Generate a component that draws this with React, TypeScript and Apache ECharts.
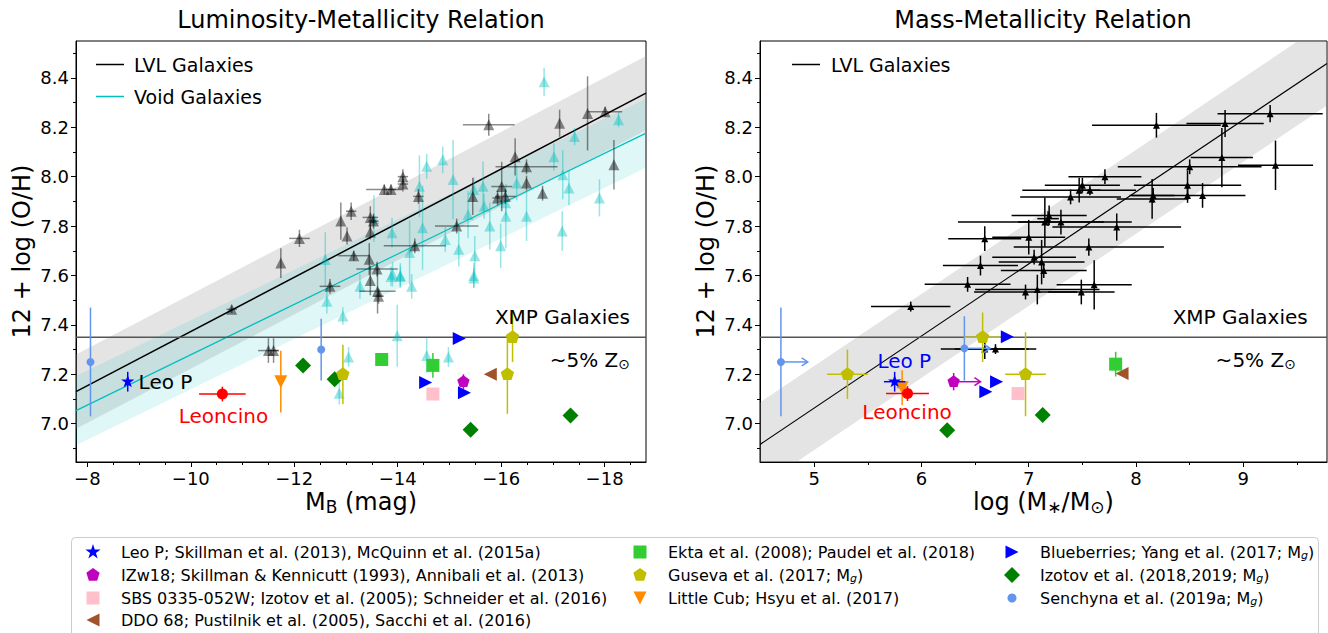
import React, { useEffect, useRef } from "react";
import * as echarts from "echarts";

const FONT = "DejaVu Sans";

// ---------------- axes ----------------
const lumXRange = [-18.8, -7.78];
const massXRange = [4.495, 9.78];
const ohRange = [6.845, 8.549];
const lumXMajor = [-8, -10, -12, -14, -16, -18];
const lumXMinor = [-8.5, -9, -9.5, -10.5, -11, -11.5, -12.5, -13, -13.5, -14.5, -15, -15.5, -16.5, -17, -17.5, -18.5];
const massXMajor = [5, 6, 7, 8, 9];
const massXMinor = [5.5, 6.5, 7.5, 8.5, 9.5];
const ohMajor = [7.0, 7.2, 7.4, 7.6, 7.8, 8.0, 8.2, 8.4];
const ohMinor = [6.9, 7.1, 7.3, 7.5, 7.7, 7.9, 8.1, 8.3, 8.5];
const xmpLevel = 7.35;

// ---------------- fits (endpoints) and scatter half-widths ----------------
const lvlLumFit = [[-7.78, 7.13], [-18.8, 8.338]];
const voidLumFit = [[-7.78, 7.053], [-18.8, 8.176]];
const lvlMassFit = [[4.495, 6.916], [9.78, 8.458]];
const lvlLumScatter = 0.15;
const voidLumScatter = 0.14;
const lvlMassScatter = 0.17;

// ---------------- Luminosity-metallicity: LVL [M_B, O/H, xerr, yerr] ----------------
const lvlLum = [
  [-11.74, 7.65, 0, 0.06], [-12.10, 7.75, 0.2, 0.035], [-12.90, 7.82, 0, 0.075], [-13.10, 7.86, 0.1, 0.035],
  [-13.02, 7.76, 0, 0.035], [-13.15, 7.68, 0.3, 0.02], [-13.47, 7.835, 0.15, 0.045], [-13.53, 7.82, 0.1, 0.03],
  [-13.47, 7.776, 0, 0.03], [-13.45, 7.666, 0, 0.065], [-13.60, 7.626, 0.4, 0.03], [-13.74, 7.948, 0.35, 0.02],
  [-13.87, 7.948, 0.1, 0.02], [-14.10, 8.0, 0.1, 0.03], [-14.10, 7.97, 0.1, 0.03], [-14.40, 7.92, 0.1, 0.03],
  [-14.33, 7.72, 0.6, 0.03], [-15.14, 7.80, 0.42, 0.03], [-15.45, 7.92, 0, 0.075], [-15.76, 8.21, 0.5, 0.045],
  [-15.93, 7.914, 0.1, 0.03], [-16.01, 7.96, 0.2, 0.1], [-16.08, 7.92, 0.2, 0.03], [-16.27, 8.08, 0, 0.075],
  [-16.49, 8.04, 0.6, 0.03], [-16.49, 7.974, 0, 0.03], [-16.80, 7.933, 0, 0.03], [-17.13, 8.216, 0, 0.055],
  [-17.67, 8.256, 0, 0.15], [-18.01, 8.263, 0.33, 0.02], [-18.18, 8.048, 0, 0.1], [-10.79, 7.463, 0.1, 0.015],
  [-11.50, 7.296, 0.2, 0.05], [-11.60, 7.296, 0.1, 0.05], [-12.69, 7.556, 0.2, 0.03], [-13.61, 7.536, 0.35, 0.09],
  [-13.63, 7.516, 0.1, 0.03], [-13.47, 7.58, 0, 0.06],
];

// Void galaxies [M_B, O/H, xerr, yerr]
const voidLum = [
  [-16.83, 8.384, 0, 0.057], [-14.87, 8.068, 0, 0.054], [-14.56, 8.042, 0, 0.05], [-14.42, 7.961, 0, 0.125],
  [-15.07, 7.988, 0, 0.16], [-15.47, 7.948, 0, 0.05], [-15.65, 7.961, 0, 0.1], [-15.67, 7.88, 0, 0.05],
  [-15.36, 7.847, 0, 0.095], [-15.78, 7.80, 0, 0.095], [-16.09, 7.84, 0, 0.13], [-16.09, 7.894, 0, 0.05],
  [-16.30, 7.974, 0, 0.07], [-16.49, 7.84, 0, 0.1], [-17.02, 8.08, 0, 0.055], [-17.19, 8.008, 0, 0.1],
  [-17.31, 7.954, 0, 0.07], [-17.42, 8.162, 0, 0.035], [-18.27, 8.23, 0, 0.03], [-17.90, 7.914, 0, 0.075],
  [-17.18, 7.78, 0, 0.08], [-15.99, 7.72, 0, 0.09], [-15.18, 7.706, 0, 0.07], [-15.49, 7.68, 0, 0.08],
  [-14.92, 7.746, 0, 0.05], [-14.48, 7.793, 0, 0.17], [-13.89, 7.773, 0, 0.06], [-14.23, 7.693, 0, 0.13],
  [-13.90, 7.605, 0, 0.05], [-14.05, 7.60, 0, 0.05], [-13.54, 7.83, 0, 0.095], [-12.60, 7.665, 0, 0.11],
  [-15.47, 7.60, 0, 0.05], [-12.63, 7.496, 0, 0.05], [-12.94, 7.436, 0, 0.035], [-13.27, 7.556, 0, 0.05],
  [-13.87, 7.596, 0, 0.04], [-14.05, 7.596, 0, 0.04], [-14.27, 7.556, 0, 0.05], [-15.47, 7.59, 0, 0.04],
  [-13.99, 7.356, 0, 0.125], [-14.56, 7.276, 0, 0.07], [-14.98, 7.27, 0, 0.04], [-13.05, 7.27, 0, 0.04],
  [-12.87, 7.123, 0, 0.045],
];

// Literature objects, luminosity panel [M_B, O/H, xerr, yerr]
const lumLeoP = [[-8.78, 7.17, 0, 0.04]];
const lumLeoncino = [[-10.61, 7.12, 0.45, 0.03]];
const lumLittleCub = [[-11.74, 7.17, 0, 0.125]];
const lumIzotov = [[-12.17, 7.236, 0, 0], [-12.78, 7.18, 0, 0], [-15.41, 6.976, 0, 0], [-17.34, 7.033, 0, 0]];
const lumGuseva = [[-12.94, 7.20, 0, 0.12], [-16.22, 7.35, 0, 0.1], [-16.12, 7.20, 0, 0.16]];
const lumEkta = [[-13.69, 7.26, 0, 0], [-14.68, 7.236, 0, 0.05]];
const lumSBS = [[-14.68, 7.12, 0, 0]];
const lumBlueberries = [[-15.19, 7.345, 0, 0], [-14.54, 7.167, 0, 0], [-15.29, 7.125, 0, 0]];
const lumIZw18 = [[-15.27, 7.17, 0, 0.03]];
const lumDDO68 = [[-15.79, 7.20, 0, 0]];
const lumSenchyna = [[-8.06, 7.25, 0, 0.22], [-12.52, 7.30, 0, 0.125]];

// ---------------- Mass-metallicity: LVL [logM, O/H, xerr, yerr] ----------------
const lvlMass = [
  [8.19, 8.208, 0.6, 0.05], [8.83, 8.215, 0.36, 0.055], [9.25, 8.255, 0.49, 0.035], [8.80, 8.077, 0.29, 0.12],
  [9.30, 8.046, 0.35, 0.1], [8.50, 8.04, 0.67, 0.03], [8.48, 7.965, 0.5, 0.06], [8.48, 7.924, 0.54, 0.03],
  [8.62, 7.924, 0, 0.05], [8.15, 7.91, 0.33, 0.08], [8.16, 7.924, 0.2, 0.03], [7.71, 8.0, 0.34, 0.03],
  [7.50, 7.965, 0.35, 0.03], [7.47, 7.945, 0.53, 0.05], [7.57, 7.945, 0.1, 0.02], [7.39, 7.918, 0.47, 0.03],
  [7.15, 7.816, 0.81, 0.1], [7.19, 7.843, 0.35, 0.04], [7.30, 7.816, 0.4, 0.05], [7.18, 7.83, 0.1, 0.03],
  [7.82, 7.796, 0.6, 0.055], [7.0, 7.755, 0.34, 0.07], [6.59, 7.749, 0.34, 0.05], [7.56, 7.715, 0.7, 0.035],
  [7.05, 7.674, 0.39, 0.03], [7.12, 7.654, 0.4, 0.09], [6.55, 7.64, 0.35, 0.04], [7.14, 7.62, 0.4, 0.03],
  [6.43, 7.564, 0.4, 0.03], [6.97, 7.533, 0.48, 0.03], [7.08, 7.543, 0.58, 0.06], [7.49, 7.533, 0.31, 0.05],
  [7.61, 7.562, 0.35, 0.1], [5.90, 7.474, 0.37, 0.02], [6.59, 7.302, 0.41, 0.04], [6.69, 7.302, 0.38, 0.02],
];

// Literature objects, mass panel [logM, O/H, xerr, yerr, lowerLimitArrowTo]
const massLeoP = [[5.75, 7.17, 0.1, 0.04]];
const massLeoncino = [[5.87, 7.122, 0.2, 0.03]];
const massLittleCub = [[5.82, 7.146, 0.05, 0.07]];
const massIzotov = [[6.24, 6.974, 0, 0], [7.13, 7.035, 0, 0]];
const massGuseva = [[5.31, 7.20, 0.19, 0.1], [6.57, 7.35, 0.17, 0.1], [6.97, 7.20, 0.19, 0.17]];
const massEkta = [[7.81, 7.241, 0, 0.05]];
const massSBS = [[6.90, 7.122, 0, 0]];
const massBlueberries = [[6.80, 7.352, 0, 0], [6.70, 7.17, 0, 0], [6.60, 7.129, 0, 0]];
const massIZw18 = [[6.30, 7.17, 0, 0.035, 6.55]];
const massDDO68 = [[7.87, 7.203, 0, 0]];
const massSenchyna = [[4.69, 7.25, 0, 0.22, 4.94], [6.40, 7.305, 0, 0.13, 6.64]];

// ---------------- texts ----------------
const titles = ["Luminosity-Metallicity Relation", "Mass-Metallicity Relation"];
const yName = "12 + log (O/H)";
const lumXName = "M{s|B} (mag)";
const massXName = "log (M{s|∗}/M{s|⊙})";
const lumNotes = [
  { x: -18.49, y: 7.43, text: "XMP Galaxies", color: "#000", align: "right" },
  { x: -18.49, y: 7.256, text: "~5% Z{s|⊙}", color: "#000", align: "right" },
  { x: -8.99, y: 7.17, text: "Leo P", color: "#000", align: "left" },
  { x: -10.63, y: 7.03, text: "Leoncino", color: "#ff0000", align: "center" },
];
const massNotes = [
  { x: 9.6, y: 7.43, text: "XMP Galaxies", color: "#000", align: "right" },
  { x: 9.49, y: 7.256, text: "~5% Z{s|⊙}", color: "#000", align: "right" },
  { x: 5.84, y: 7.255, text: "Leo P", color: "#0000ff", align: "center" },
  { x: 5.866, y: 7.047, text: "Leoncino", color: "#ff0000", align: "center" },
];
const legendCols = [
  [
    { kind: "star", color: "#0000ff", label: "Leo P; Skillman et al. (2013), McQuinn et al. (2015a)" },
    { kind: "pent", color: "#bf00bf", label: "IZw18; Skillman & Kennicutt (1993), Annibali et al. (2013)" },
    { kind: "square", color: "#ffc0cb", label: "SBS 0335-052W; Izotov et al. (2005); Schneider et al. (2016)" },
    { kind: "triLeft", color: "#a0522d", label: "DDO 68; Pustilnik et al. (2005), Sacchi et al. (2016)" },
  ],
  [
    { kind: "square", color: "#32cd32", label: "Ekta et al. (2008); Paudel et al. (2018)" },
    { kind: "pent", color: "#bfbf00", label: "Guseva et al. (2017; M{g|g})" },
    { kind: "triDown", color: "#ff8c00", label: "Little Cub; Hsyu et al. (2017)" },
  ],
  [
    { kind: "triRight", color: "#0000ff", label: "Blueberries; Yang et al. (2017; M{g|g})" },
    { kind: "diamond", color: "#008000", label: "Izotov et al. (2018,2019; M{g|g})" },
    { kind: "circle", color: "#6495ed", label: "Senchyna et al. (2019a; M{g|g})" },
  ],
];

// ---------------- helpers ----------------
function markerPoints(kind: string, cx: number, cy: number, s: number) {
  let unit: number[][] = [];
  if (kind === "tri") unit = [[0, -1], [1, 1], [-1, 1]];
  else if (kind === "triDown") unit = [[0, 1], [1, -1], [-1, -1]];
  else if (kind === "triRight") unit = [[1, 0], [-1, -1], [-1, 1]];
  else if (kind === "triLeft") unit = [[-1, 0], [1, -1], [1, 1]];
  else if (kind === "diamond") unit = [[0, -1], [1, 0], [0, 1], [-1, 0]];
  else if (kind === "pent") {
    for (let k = 0; k < 5; k++) {
      const a = (-90 + 72 * k) * Math.PI / 180;
      unit.push([Math.cos(a), Math.sin(a)]);
    }
  } else if (kind === "star") {
    for (let k = 0; k < 10; k++) {
      const a = (-90 + 36 * k) * Math.PI / 180;
      const r = k % 2 === 0 ? 1 : 0.382;
      unit.push([r * Math.cos(a), r * Math.sin(a)]);
    }
  }
  return unit.map((p) => [cx + p[0] * s, cy + p[1] * s]);
}

function markerEl(kind: string, cx: number, cy: number, s: number, fill: string, opacity = 1) {
  const style: any = { fill, opacity };
  if (kind === "circle") return { type: "circle", shape: { cx, cy, r: s }, style };
  if (kind === "square") return { type: "rect", shape: { x: cx - s, y: cy - s, width: 2 * s, height: 2 * s }, style };
  return { type: "polygon", shape: { points: markerPoints(kind, cx, cy, s) }, style };
}

const num = (v: any) => (typeof v === "number" && isFinite(v) ? v : 0);

function pointSeries(name: string, data: number[][], xi: number, yi: number, kind: string, size: number,
  color: string, opacity: number, lw: number, z: number) {
  return {
    type: "custom", name, xAxisIndex: xi, yAxisIndex: yi, clip: true, z, silent: true,
    dimensions: ["x", "y", "xe", "ye", "ax"],
    encode: { x: 0, y: 1 },
    data,
    renderItem: (params: any, api: any) => {
      const x = api.value(0), y = api.value(1);
      const xe = num(api.value(2)), ye = num(api.value(3)), ax = num(api.value(4));
      const c = api.coord([x, y]);
      const ls = { stroke: color, lineWidth: lw, opacity };
      const kids: any[] = [];
      if (xe > 0) {
        const a = api.coord([x - xe, y]), b = api.coord([x + xe, y]);
        kids.push({ type: "line", shape: { x1: a[0], y1: a[1], x2: b[0], y2: b[1] }, style: ls });
      }
      if (ye > 0) {
        const a = api.coord([x, y - ye]), b = api.coord([x, y + ye]);
        kids.push({ type: "line", shape: { x1: a[0], y1: a[1], x2: b[0], y2: b[1] }, style: ls });
      }
      if (ax) {
        const t = api.coord([ax, y]);
        kids.push({ type: "line", shape: { x1: c[0], y1: c[1], x2: t[0], y2: t[1] }, style: ls });
        kids.push({ type: "polyline", shape: { points: [[t[0] - 6, t[1] - 4], [t[0], t[1]], [t[0] - 6, t[1] + 4]] }, style: { ...ls, fill: null } });
      }
      kids.push(markerEl(kind, c[0], c[1], size, color, opacity));
      return { type: "group", children: kids };
    },
  };
}

function bandSeries(fit: number[][], hw: number, xi: number, yi: number, color: string, z: number) {
  return {
    type: "custom", xAxisIndex: xi, yAxisIndex: yi, clip: true, z, silent: true,
    data: [[fit[0][0], fit[0][1], fit[1][0], fit[1][1], hw]],
    renderItem: (params: any, api: any) => {
      const x0 = api.value(0), y0 = api.value(1), x1 = api.value(2), y1 = api.value(3), w = api.value(4);
      const pts = [api.coord([x0, y0 + w]), api.coord([x1, y1 + w]), api.coord([x1, y1 - w]), api.coord([x0, y0 - w])];
      return { type: "polygon", shape: { points: pts }, style: { fill: color } };
    },
  };
}

function lineSeries(pts: number[][], xi: number, yi: number, color: string, width: number, z: number) {
  return {
    type: "line", xAxisIndex: xi, yAxisIndex: yi, data: pts, symbol: "none", silent: true, z, clip: true,
    lineStyle: { color, width }, emphasis: { disabled: true },
  };
}

const subRich = (size: number, color: string, italic = false) => ({
  fontSize: size, fontFamily: FONT, fontStyle: italic ? "italic" : "normal",
  lineHeight: size, padding: [Math.round(size * 0.6), 0, 0, 0], color, fill: color,
});

function noteSeries(notes: any[], xi: number, yi: number) {
  return {
    type: "custom", xAxisIndex: xi, yAxisIndex: yi, z: 30, silent: true, clip: false,
    data: notes.map((n, i) => [n.x, n.y, i]),
    renderItem: (params: any, api: any) => {
      const n = notes[api.value(2)];
      const c = api.coord([api.value(0), api.value(1)]);
      return {
        type: "text", x: c[0], y: c[1],
        style: {
          text: n.text, fill: n.color, fontFamily: FONT, fontSize: 20, lineHeight: 24,
          align: n.align, verticalAlign: "middle", rich: { s: subRich(14, n.color) },
        },
      };
    },
  };
}

const fmtLum = (v: number) => (v < 0 ? "\u2212" + Math.abs(v) : String(v));
const fmtMass = (v: number) => String(v);
const fmtOH = (v: number) => v.toFixed(1);

function xAxes(gridIndex: number, range: number[], inverse: boolean, majors: number[], minors: number[], fmt: any, name: string) {
  const base = { type: "value", gridIndex, min: range[0], max: range[1], inverse, position: "bottom", splitLine: { show: false } };
  return [
    {
      ...base, name, nameLocation: "middle", nameGap: 28, nameMoveOverlap: false,
      nameTextStyle: { fontFamily: FONT, fontSize: 24, color: "#000", lineHeight: 24, rich: { s: subRich(17, "#000") } },
      axisLine: { show: true, onZero: false, lineStyle: { color: "#000", width: 1 } },
      axisTick: { show: true, inside: false, length: 5, customValues: majors, lineStyle: { color: "#000", width: 1 } },
      axisLabel: { show: true, customValues: majors, formatter: fmt, fontFamily: FONT, fontSize: 18, color: "#000", margin: 7 },
    },
    {
      ...base,
      axisLine: { show: false, onZero: false },
      axisTick: { show: true, inside: false, length: 3, customValues: minors, lineStyle: { color: "#000", width: 1 } },
      axisLabel: { show: false },
    },
  ];
}

function yAxes(gridIndex: number) {
  const base = { type: "value", gridIndex, min: ohRange[0], max: ohRange[1], position: "left", splitLine: { show: false } };
  return [
    {
      ...base, name: yName, nameLocation: "middle", nameGap: 42, nameMoveOverlap: false,
      nameTextStyle: { fontFamily: FONT, fontSize: 24, color: "#000" },
      axisLine: { show: true, onZero: false, lineStyle: { color: "#000", width: 1 } },
      axisTick: { show: true, inside: false, length: 5, customValues: ohMajor, lineStyle: { color: "#000", width: 1 } },
      axisLabel: { show: true, customValues: ohMajor, formatter: fmtOH, fontFamily: FONT, fontSize: 18, color: "#000", margin: 7 },
    },
    {
      ...base,
      axisLine: { show: false, onZero: false },
      axisTick: { show: true, inside: false, length: 3, customValues: ohMinor, lineStyle: { color: "#000", width: 1 } },
      axisLabel: { show: false },
    },
  ];
}

function buildGraphic() {
  const els: any[] = [];
  const T = (x: number, y: number, text: string, size: number, align = "left", color = "#000", rich?: any) => ({
    type: "text", x, y, silent: true,
    style: { text, fill: color, fontFamily: FONT, fontSize: size, align, verticalAlign: "middle", rich },
  });
  els.push(T(361, 20, titles[0], 24, "center"));
  els.push(T(1043, 20, titles[1], 24, "center"));
  // in-plot legends
  els.push({ type: "line", shape: { x1: 96, y1: 64.5, x2: 124, y2: 64.5 }, style: { stroke: "#000", lineWidth: 1.5 } });
  els.push(T(134, 64.5, "LVL Galaxies", 19));
  els.push({ type: "line", shape: { x1: 96, y1: 96.5, x2: 124, y2: 96.5 }, style: { stroke: "#00bfbf", lineWidth: 1.5 } });
  els.push(T(134, 96.5, "Void Galaxies", 19));
  els.push({ type: "line", shape: { x1: 792, y1: 64.5, x2: 820, y2: 64.5 }, style: { stroke: "#000", lineWidth: 1.5 } });
  els.push(T(831, 64.5, "LVL Galaxies", 19));
  // bottom legend
  els.push({ type: "rect", shape: { x: 71.5, y: 537.5, width: 1247, height: 120, r: 4 }, style: { fill: "#fff", stroke: "#cccccc", lineWidth: 1 } });
  const colX = [93, 640, 1012];
  const rowY = [552, 575, 598, 620];
  const sizes: any = { star: 8, pent: 7, square: 6.5, triLeft: 6.5, triDown: 6.5, triRight: 6.5, diamond: 8, circle: 4.5 };
  legendCols.forEach((col, ci) => {
    col.forEach((e, ri) => {
      const m: any = markerEl(e.kind, colX[ci], rowY[ri], sizes[e.kind], e.color);
      els.push(m);
      els.push(T(colX[ci] + 28, rowY[ri], e.label, 16, "left", "#000", { g: subRich(11, "#000", true) }));
    });
  });
  return els;
}

function buildOption() {
  const lumX = 0, massX = 2, lumY = 0, massY = 2;
  const series: any[] = [
    // luminosity panel
    bandSeries(lvlLumFit, lvlLumScatter, lumX, lumY, "rgba(150,150,150,0.26)", 1),
    bandSeries(voidLumFit, voidLumScatter, lumX, lumY, "rgba(0,191,191,0.12)", 2),
    lineSeries(lvlLumFit, lumX, lumY, "#000", 1.5, 3),
    lineSeries(voidLumFit, lumX, lumY, "#00bfbf", 1.2, 3),
    lineSeries([[lumXRange[0], xmpLevel], [lumXRange[1], xmpLevel]], lumX, lumY, "#555", 1.4, 3),
    pointSeries("Void", voidLum, lumX, lumY, "tri", 5.5, "#00bfbf", 0.4, 1.5, 4),
    pointSeries("LVL", lvlLum, lumX, lumY, "tri", 5.5, "#000000", 0.45, 1.5, 5),
    pointSeries("Senchyna", lumSenchyna, lumX, lumY, "circle", 4, "#6495ed", 1, 1.5, 6),
    pointSeries("Leo P", lumLeoP, lumX, lumY, "star", 7, "#0000ff", 1, 1.5, 6),
    pointSeries("Leoncino", lumLeoncino, lumX, lumY, "circle", 5.5, "#ff0000", 1, 1.5, 6),
    pointSeries("Little Cub", lumLittleCub, lumX, lumY, "triDown", 6.5, "#ff8c00", 1, 1.5, 6),
    pointSeries("Izotov", lumIzotov, lumX, lumY, "diamond", 8, "#008000", 1, 1.5, 6),
    pointSeries("Guseva", lumGuseva, lumX, lumY, "pent", 7, "#bfbf00", 1, 1.5, 6),
    pointSeries("Ekta", lumEkta, lumX, lumY, "square", 6.5, "#32cd32", 1, 1.5, 6),
    pointSeries("SBS", lumSBS, lumX, lumY, "square", 6.5, "#ffc0cb", 1, 1.5, 6),
    pointSeries("Blueberries", lumBlueberries, lumX, lumY, "triRight", 6.5, "#0000ff", 1, 1.5, 6),
    pointSeries("IZw18", lumIZw18, lumX, lumY, "pent", 6.5, "#bf00bf", 1, 1.5, 6),
    pointSeries("DDO 68", lumDDO68, lumX, lumY, "triLeft", 6.5, "#a0522d", 1, 1.5, 6),
    noteSeries(lumNotes, lumX, lumY),
    // mass panel
    bandSeries(lvlMassFit, lvlMassScatter, massX, massY, "rgba(150,150,150,0.26)", 1),
    lineSeries(lvlMassFit, massX, massY, "#000", 1.2, 3),
    lineSeries([[massXRange[0], xmpLevel], [massXRange[1], xmpLevel]], massX, massY, "#555", 1.4, 3),
    pointSeries("LVL mass", lvlMass, massX, massY, "tri", 3.5, "#000000", 1, 1.5, 5),
    pointSeries("Senchyna m", massSenchyna, massX, massY, "circle", 4, "#6495ed", 1, 1.5, 6),
    pointSeries("Guseva m", massGuseva, massX, massY, "pent", 7, "#bfbf00", 1, 1.5, 6),
    pointSeries("Little Cub m", massLittleCub, massX, massY, "triDown", 6.5, "#ff8c00", 1, 1.5, 6),
    pointSeries("Leo P m", massLeoP, massX, massY, "star", 7, "#0000ff", 1, 1.5, 7),
    pointSeries("Leoncino m", massLeoncino, massX, massY, "circle", 5.5, "#ff0000", 1, 1.5, 7),
    pointSeries("Izotov m", massIzotov, massX, massY, "diamond", 8, "#008000", 1, 1.5, 6),
    pointSeries("IZw18 m", massIZw18, massX, massY, "pent", 6.5, "#bf00bf", 1, 1.5, 6),
    pointSeries("Blueberries m", massBlueberries, massX, massY, "triRight", 6.5, "#0000ff", 1, 1.5, 6),
    pointSeries("SBS m", massSBS, massX, massY, "square", 6.5, "#ffc0cb", 1, 1.5, 6),
    pointSeries("Ekta m", massEkta, massX, massY, "square", 6.5, "#32cd32", 1, 1.5, 6),
    pointSeries("DDO 68 m", massDDO68, massX, massY, "triLeft", 6.5, "#a0522d", 1, 1.5, 6),
    noteSeries(massNotes, massX, massY),
  ];
  return {
    animation: false,
    backgroundColor: "#fff",
    textStyle: { fontFamily: FONT },
    grid: [
      { left: 76, top: 41, width: 570, height: 421, show: true, borderColor: "#000", borderWidth: 1, backgroundColor: "transparent" },
      { left: 760, top: 41, width: 567, height: 421, show: true, borderColor: "#000", borderWidth: 1, backgroundColor: "transparent" },
    ],
    xAxis: [
      ...xAxes(0, lumXRange, true, lumXMajor, lumXMinor, fmtLum, lumXName),
      ...xAxes(1, massXRange, false, massXMajor, massXMinor, fmtMass, massXName),
    ],
    yAxis: [...yAxes(0), ...yAxes(1)],
    series,
    graphic: buildGraphic(),
  };
}

export default function App() {
  const ref = useRef<HTMLDivElement>(null);
  useEffect(() => {
    const chart = echarts.init(ref.current as HTMLDivElement, null, { renderer: "svg" });
    chart.setOption(buildOption() as any);
    return () => chart.dispose();
  }, []);
  return (
    <div
      ref={ref}
      style={{ position: "fixed", left: 0, top: 0, width: 1328, height: 633, background: "#fff" }}
    />
  );
}
